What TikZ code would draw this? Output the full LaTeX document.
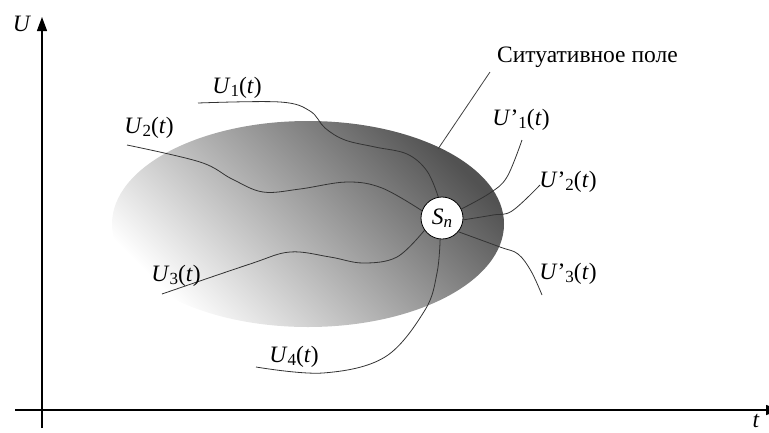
\documentclass[tikz,border=0pt]{standalone}
\usepackage{fontspec}
\setmainfont{Liberation Serif}
\usetikzlibrary{arrows.meta,positioning,shapes.geometric}
\newcommand{\lowidx}[1]{\raisebox{-0.25ex}{\fontsize{17}{18}\selectfont #1}}
\newcommand{\Ut}[1]{\textit{U}\lowidx{#1}(\textit{t})}
\newcommand{\Upt}[1]{\textit{U}’\lowidx{#1}(\textit{t})}
\tikzset{
  axis/.style={line width=1.3pt, -{Triangle[length=14pt,width=10pt]}},
  curve/.style={line width=0.8pt, draw=black!80},
  lbl/.style={font=\fontsize{23.5}{26}\selectfont, inner sep=0pt},
  state/.style={draw, circle, fill=white, line width=0.8pt, minimum size=42pt, inner sep=0pt, font=\fontsize{23.5}{26}\selectfont}
}
\begin{document}
\begin{tikzpicture}[x=1pt, y=-1pt]
\useasboundingbox (0,0) rectangle (769,432);

% field
\shade[top color=black!68, bottom color=white, shading angle=-45]
  (308,224) ellipse [x radius=196, y radius=103];

% axes
\coordinate (o1) at (42,428);
\coordinate (uend) at (42,17);
\coordinate (o2) at (15,410);
\coordinate (tend) at (780,410);
\draw[axis] (o1) -- (uend);
\draw[axis] (o2) -- (tend);
\node[lbl] (ulbl) at (22,24) {\textit{U}};
\node[lbl, anchor=base] (tlbl) at (756,427) {\textit{t}};

% state
\node[state] (sn) at (442,218) {\textit{S}\lowidx{\textit{n}}};

% incoming
\coordinate (u1) at (198,103);
\coordinate (u2) at (127,145);
\coordinate (u3) at (162,294);
\coordinate (u4) at (256,367);
\draw[curve] plot[smooth, tension=0.6] coordinates {(u1) (280,102) (310,111) (325,128) (345,140) (375,147) (407,154) (427,171) (sn.100)};
\draw[curve] plot[smooth, tension=0.6] coordinates {(u2) (200,162) (232,179) (263,192) (300,189) (347,182) (382,188) (sn.160)};
\draw[curve] plot[smooth, tension=0.6] coordinates {(u3) (250,264) (290,252) (330,257) (363,263) (397,257) (sn.215)};
\draw[curve] plot[smooth, tension=0.6] coordinates {(u4) (323,373) (385,357) (425,310) (437,273) (sn.265)};

% outgoing
\coordinate (v1) at (522,140);
\coordinate (v2) at (540,185);
\coordinate (v3) at (542,295);
\draw[curve] plot[smooth, tension=0.6] coordinates {(sn.25) (490,193) (507,177) (v1)};
\draw[curve] plot[smooth, tension=0.6] coordinates {(sn.-5) (493,215) (512,211) (v2)};
\draw[curve] plot[smooth, tension=0.6] coordinates {(sn.-40) (500,247) (518,254) (531,271) (v3)};

% labels
\node[lbl] (l1) at (237,88) {\Ut{1}};
\node[lbl] (l2) at (149,128) {\Ut{2}};
\node[lbl] (l3) at (176,276) {\Ut{3}};
\node[lbl] (l4) at (294,357) {\Ut{4}};
\node[lbl] (r1) at (521,120) {\Upt{1}};
\node[lbl] (r2) at (568,182) {\Upt{2}};
\node[lbl] (r3) at (568,274) {\Upt{3}};

% field label
\coordinate (fp) at (438,149);
\node[lbl, anchor=west] (field) at (497,57) {Ситуативное поле};
\draw[curve, draw=black!75] (fp) -- (490,72);
\end{tikzpicture}
\end{document}
